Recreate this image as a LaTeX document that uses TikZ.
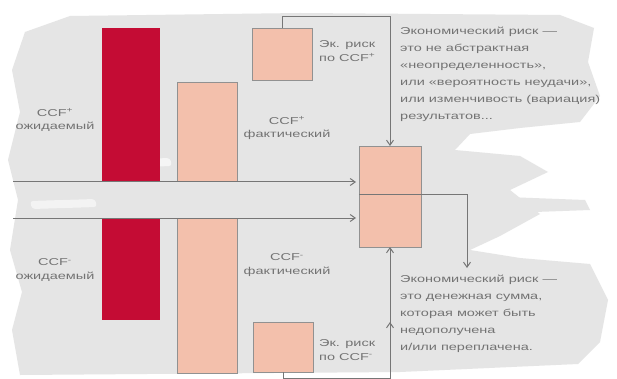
\documentclass[tikz,border=0pt]{standalone}
\usepackage{fontspec}
\setmainfont{Liberation Sans}[FakeStretch=1.45]
\usetikzlibrary{arrows.meta}
\definecolor{barred}{RGB}{196,12,52}
\definecolor{peach}{RGB}{243,192,172}
\definecolor{bggrey}{RGB}{229,229,229}
\definecolor{lngrey}{RGB}{118,118,118}
\definecolor{txtgrey}{RGB}{115,115,115}
\begin{document}
\begin{tikzpicture}[x=1pt,y=-1pt,
  barbox/.style={inner sep=0pt, outer sep=0pt, anchor=north west},
  redbar/.style={barbox, fill=barred},
  peachbox/.style={barbox, fill=peach, draw=lngrey!80, line width=0.6pt},
  conn/.style={draw=lngrey, line width=1pt},
  arr/.style={conn, -{Straight Barb[length=5pt,width=7pt,line width=1pt]}},
  lbl/.style={text=txtgrey, font=\fontsize{10}{13.5}\selectfont, inner sep=0pt},
  para/.style={text=txtgrey, font=\fontsize{10}{17}\selectfont, inner sep=0pt, align=left, anchor=north west}
]
\useasboundingbox (0,0) rectangle (617,379);
\fill[white] (0,0) rectangle (617,379);
% brush background
\fill[bggrey] (25,32) -- (70,16) -- (300,13) -- (560,15) -- (594,28) -- (588,62) -- (600,96) -- (580,122)
  -- (520,128) -- (470,134) -- (455,150) -- (520,156) -- (548,172) -- (510,190) -- (540,214) -- (500,236)
  -- (470,250) -- (520,258) -- (590,264) -- (608,300) -- (600,342) -- (578,364)
  -- (400,372) -- (20,375) -- (12,330) -- (22,292) -- (10,250) -- (18,200) -- (8,160) -- (20,112) -- (12,70) -- cycle;
\fill[bggrey] (480,196) -- (585,200) -- (590,210) -- (480,214) -- cycle;
\fill[white!55!bggrey, rounded corners=3pt] (30,201) -- (95,199) -- (97,207) -- (32,209) -- cycle;
\fill[white!60!bggrey, rounded corners=3pt] (110,160) -- (170,158) -- (172,166) -- (112,168) -- cycle;

% bars
\node[redbar, minimum width=58pt, minimum height=153pt] (rup) at (102,28) {};
\node[redbar, minimum width=58pt, minimum height=102pt] (rdn) at (102,218) {};
\node[peachbox, minimum width=60pt, minimum height=99pt] (pup) at (177,82) {};
\node[peachbox, minimum width=60pt, minimum height=155pt] (pdn) at (177,218) {};
\node[peachbox, minimum width=60pt, minimum height=52pt] (ekup) at (252,28) {};
\node[peachbox, minimum width=60pt, minimum height=50pt] (ekdn) at (253,322) {};
\node[peachbox, minimum width=62pt, minimum height=101pt] (center) at (359,146) {};

% horizontal arrows
\coordinate (a1) at (13,182);
\coordinate (a2) at (13,218);
\draw[arr, shorten >=3pt] (a1) -- (a1 -| center.west);
\draw[arr, shorten >=3pt] (a2) -- (a2 -| center.west);

% connectors from the small boxes
\draw[arr] (ekup.north) -- ++(0,-11) -| (center.north);
\draw[arr] (ekdn.south) -- ++(0,6) -| (center.south);
\draw[arr] (center.south |- ekdn.south) -- (center.south |- ekdn.north);

% divider and output
\coordinate (div) at (359,194);
\coordinate (outend) at (467,268);
\draw[conn] (div) -- (div -| center.east);
\draw[arr] (div -| center.east) -| (outend);

% labels
\node[lbl, align=center] (cpe) at (55,120) {CCF\textsuperscript{+}\\ожидаемый};
\node[lbl, align=center] (cme) at (55,270) {CCF\textsuperscript{-}\\ожидаемый};
\node[lbl, align=center] (cpf) at (287,128) {CCF\textsuperscript{+}\\фактический};
\node[lbl, align=center] (cmf) at (287,265) {CCF\textsuperscript{-}\\фактический};
\node[lbl, align=left, anchor=west] (ekpt) at (319,51) {Эк. риск\\по CCF\textsuperscript{+}};
\node[lbl, align=left, anchor=west] (ekmt) at (319,350) {Эк. риск\\по CCF\textsuperscript{-}};

\node[para] (ptop) at (400,27) {Экономический риск —\\это не абстрактная\\«неопределенность»,\\или «вероятность неудачи»,\\или изменчивость (вариация)\\результатов...};
\node[para] (pbot) at (400,275) {Экономический риск —\\это денежная сумма,\\которая может быть\\недополучена\\и/или переплачена.};
\end{tikzpicture}
\end{document}
